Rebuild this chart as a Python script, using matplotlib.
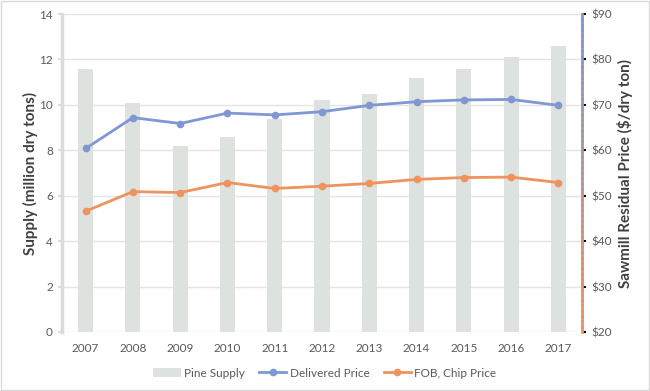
import numpy as np
import matplotlib.pyplot as plt
from matplotlib.ticker import FuncFormatter
from matplotlib.collections import LineCollection
from matplotlib.colors import to_rgb

plt.rcParams['font.family'] = ['Lato', 'DejaVu Sans']

years = ['2007', '2008', '2009', '2010', '2011', '2012', '2013', '2014', '2015', '2016', '2017']
pine_supply = [11.6, 10.1, 8.2, 8.6, 9.4, 10.2, 10.5, 11.2, 11.6, 12.1, 12.6]
delivered_price = [60.4, 67.2, 65.9, 68.2, 67.8, 68.5, 69.9, 70.7, 71.1, 71.2, 69.9]
fob_price = [46.6, 50.9, 50.7, 52.9, 51.6, 52.1, 52.7, 53.6, 54.0, 54.1, 52.9]

bar_c = '#dde2de'
blue = '#7f97d3'
orange = '#ee925e'
txt = '#595959'

fig = plt.figure(figsize=(6.5, 3.91), dpi=100)
ax = fig.add_axes([0.0954, 0.151, 0.8, 0.813])
x = np.arange(len(years))

ax.bar(x, pine_supply, width=0.32, color=bar_c, zorder=2, label='Pine Supply')
ax.set_ylim(0, 14)
ax.set_yticks(range(0, 15, 2))
ax.set_xlim(-0.5, len(years) - 0.5)
ax.set_xticks(x)
ax.set_xticklabels(years)
ax.grid(axis='y', color='#e4e4e4', linewidth=1, zorder=0)
ax.set_axisbelow(True)
for s in ['top', 'right', 'bottom']:
    ax.spines[s].set_visible(False)
ax.spines['left'].set_color('#d9dcd9')
ax.spines['left'].set_linewidth(2.5)
ax.tick_params(axis='y', colors='#d9dcd9', labelcolor=txt, labelsize=8.5, length=3, width=1.5)
ax.tick_params(axis='x', length=0, labelcolor=txt, labelsize=8.5, pad=8)
ax.set_ylabel('Supply (million dry tons)', fontsize=11, fontweight='bold', color='#404040', labelpad=1)

ax2 = ax.twinx()
ax2.plot(x, delivered_price, color=blue, lw=2, marker='o', ms=4.5, label='Delivered Price', zorder=4)
ax2.plot(x, fob_price, color=orange, lw=2, marker='o', ms=4.5, label='FOB, Chip Price', zorder=4)
ax2.set_ylim(20, 90)
ax2.set_yticks(range(20, 91, 10))
ax2.yaxis.set_major_formatter(FuncFormatter(lambda v, p: '$%d' % v))
for s in ['top', 'left', 'bottom', 'right']:
    ax2.spines[s].set_visible(False)
ax2.tick_params(axis='y', labelcolor=txt, labelsize=8.5, length=3, width=1.5)

# blended spine: orange at bottom, blue at top (two overlapping axes in the original)
cb, co = np.array(to_rgb(blue)), np.array(to_rgb(orange))
n = 60
ys = np.linspace(0, 1, n + 1)
segs = [[(1, ys[i]), (1, ys[i + 1])] for i in range(n)]
cols = [co + (cb - co) * (i / (n - 1)) for i in range(n)]
ax2.add_collection(LineCollection(segs, colors=cols, linewidths=2, capstyle='projecting',
                                  transform=ax2.transAxes, clip_on=False))
ticks = ax2.yaxis.get_major_ticks()
for i, t in enumerate(ticks):
    t.tick2line.set_color(cb + (co - cb) * (i / (len(ticks) - 1)))

ax2.set_ylabel('Sawmill Residual Price ($/dry ton)', fontsize=11, fontweight='bold', color='#404040')

h1, l1 = ax.get_legend_handles_labels()
h2, l2 = ax2.get_legend_handles_labels()
fig.legend(h1 + h2, l1 + l2, loc='center', bbox_to_anchor=(0.5, 0.046), ncol=3, frameon=False,
           fontsize=8.5, labelcolor=txt, handlelength=2.3, columnspacing=1.2, handletextpad=0.3)

fig.patches.append(plt.Rectangle((0.002, 0.003), 0.996, 0.994, transform=fig.transFigure,
                                 fill=False, edgecolor='#d9d9d9', linewidth=1))
fig.savefig('out.png', dpi=100)
